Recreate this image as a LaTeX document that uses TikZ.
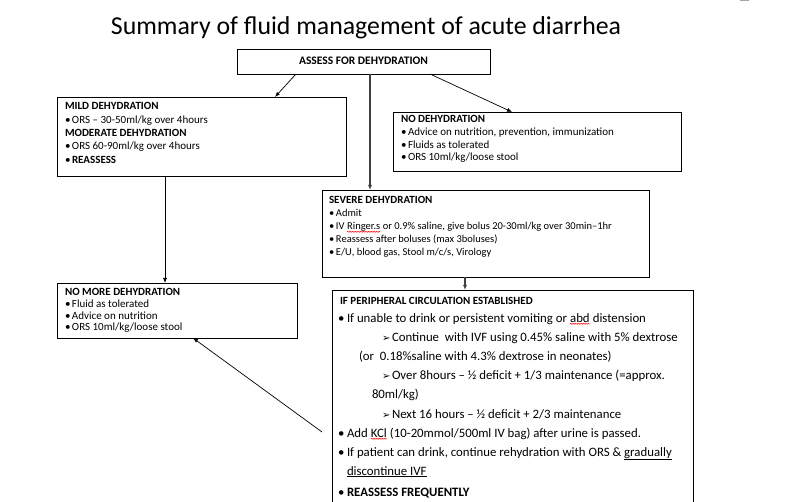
\documentclass[tikz,border=0pt]{standalone}
\usepackage{fontspec}
\setmainfont{Carlito}
\newfontfamily\dingf{DejaVu Sans}
\usetikzlibrary{arrows.meta,decorations.pathmorphing}
\newcommand\bulA{\makebox[7pt][l]{\textbullet}}
\newcommand\bulB{\makebox[9pt][l]{\textbullet}}
\newcommand\arrA{\makebox[10pt][l]{{\dingf\fontsize{10}{12}\selectfont ➢}}}
\newcommand\squig[1]{\tikz[baseline=(sqz.base)]{\node[inner sep=0pt,outer sep=0pt](sqz){#1};\draw[red,line width=0.4pt,decorate,decoration={zigzag,amplitude=0.5pt,segment length=1.6pt}]([yshift=-1.8pt]sqz.base west)--([yshift=-1.8pt]sqz.base east);}}
\tikzset{
  box/.style={draw, line width=0.8pt, anchor=north west, inner sep=0pt, outer sep=0pt},
  ln/.style={anchor=base west, inner sep=0pt, outer sep=0pt, font=\fontsize{11}{13}\selectfont},
  sm/.style={ln, font=\fontsize{10.5}{12}\selectfont},
  hd/.style={ln, font=\fontsize{11}{13}\selectfont\bfseries},
  big/.style={ln, font=\fontsize{12.8}{15}\selectfont},
  bighd/.style={ln, font=\fontsize{11}{13}\selectfont\bfseries},
  arr/.style={-{Latex[length=5pt,width=4pt]}, line width=0.7pt}
}
\begin{document}
\begin{tikzpicture}[x=1pt,y=-1pt]
\useasboundingbox (0,0) rectangle (786,502);
\fill[gray!70] (740,0) rectangle (749,1.5);
% title
\node[anchor=base, inner sep=0pt, font=\fontsize{25.8}{30}\selectfont] (title) at (366,35) {Summary of fluid management of acute diarrhea};
% boxes
\node[box, minimum width=253pt, minimum height=25pt] (assess) at (237,49) {};
\node[box, minimum width=289pt, minimum height=79pt] (mild) at (57,97) {};
\node[box, minimum width=288pt, minimum height=59pt] (nodeh) at (393,112) {};
\node[box, minimum width=327pt, minimum height=87pt] (severe) at (322,190) {};
\node[box, minimum width=240pt, minimum height=55pt] (nomore) at (57,283) {};
\node[box, minimum width=361pt, minimum height=230pt] (ifpc) at (332,290) {};
% assess text
\node[bighd, anchor=base, font=\fontsize{11.5}{13}\selectfont\bfseries] (assessT) at (363.5,65) {ASSESS FOR DEHYDRATION};
% mild
\node[hd] (m1) at (65,110) {MILD DEHYDRATION};
\node[ln] (m2) at (65,123.5) {\bulA ORS – 30-50ml/kg over 4hours};
\node[hd] (m3) at (65,137) {MODERATE DEHYDRATION};
\node[ln] (m4) at (65,150) {\bulA ORS 60-90ml/kg over 4hours};
\node[ln] (m5) at (65,163.5) {\bulA\textbf{REASSESS}};
% no dehydration
\node[hd] (n1) at (401,123) {NO DEHYDRATION};
\node[ln] (n2) at (401,135.7) {\bulA Advice on nutrition, prevention, immunization};
\node[ln] (n3) at (401,148.4) {\bulA Fluids as tolerated};
\node[ln] (n4) at (401,161) {\bulA ORS 10ml/kg/loose stool};
% severe
\node[hd] (s1) at (329,204) {SEVERE DEHYDRATION};
\node[sm] (s2) at (329,217) {\bulA Admit};
\node[sm] (s3) at (329,230) {\bulA IV \squig{Ringer.s} or 0.9\% saline, give bolus 20-30ml/kg over 30min–1hr};
\node[sm] (s4) at (329,243) {\bulA Reassess after boluses (max 3boluses)};
\node[sm] (s5) at (329,256) {\bulA E/U, blood gas, Stool m/c/s, Virology};
% no more
\node[hd] (r1) at (65,295) {NO MORE DEHYDRATION};
\node[ln] (r2) at (65,307) {\bulA Fluid as tolerated};
\node[ln] (r3) at (65,319) {\bulA Advice on nutrition};
\node[ln] (r4) at (65,330.5) {\bulA ORS 10ml/kg/loose stool};
% peripheral circulation
\node[bighd] (p1) at (340,304.5) {IF PERIPHERAL CIRCULATION ESTABLISHED};
\node[big] (p2) at (338,322) {\bulB If unable to drink or persistent vomiting or \squig{abd} distension};
\node[big] (p3) at (382,341) {\arrA Continue\ \ with IVF using 0.45\% saline with 5\% dextrose};
\node[big] (p4) at (359,360.5) {(or\ \ 0.18\%saline with 4.3\% dextrose in neonates)};
\node[big] (p5) at (382,379.5) {\arrA Over 8hours – ½ deficit + 1/3 maintenance (=approx.};
\node[big] (p6) at (372,398.5) {80ml/kg)};
\node[big] (p7) at (382,418) {\arrA Next 16 hours – ½ deficit + 2/3 maintenance};
\node[big] (p8) at (338,437) {\bulB Add \squig{KCl} (10-20mmol/500ml IV bag) after urine is passed.};
\node[big] (p9) at (338,456) {\bulB If patient can drink, continue rehydration with ORS \& \underline{gradually}};
\node[big] (p10) at (347,475) {\underline{discontinue IVF}};
\node[big] (p11) at (338,496) {\bulB\textbf{REASSESS FREQUENTLY}};
% connectors
\draw[arr] ([xshift=59pt]assess.south west) -- ([xshift=218pt]mild.north west);
\draw[arr, line width=1.1pt, black!75] ([xshift=133pt]assess.south west) -- ([xshift=48pt]severe.north west);
\draw[arr] ([xshift=193pt]assess.south west) -- ([xshift=119pt]nodeh.north west);
\draw[arr] ([xshift=108pt]mild.south west) -- ([xshift=108pt]nomore.north west);
\draw[arr, line width=1.1pt, black!75] ([xshift=143pt]severe.south west) -- ([xshift=133pt]ifpc.north west);
\coordinate (ifsrc) at ([xshift=-10pt,yshift=-142pt]ifpc.north west);
\draw[arr] (ifsrc) -- ([xshift=136pt]nomore.south west);
\end{tikzpicture}
\end{document}
